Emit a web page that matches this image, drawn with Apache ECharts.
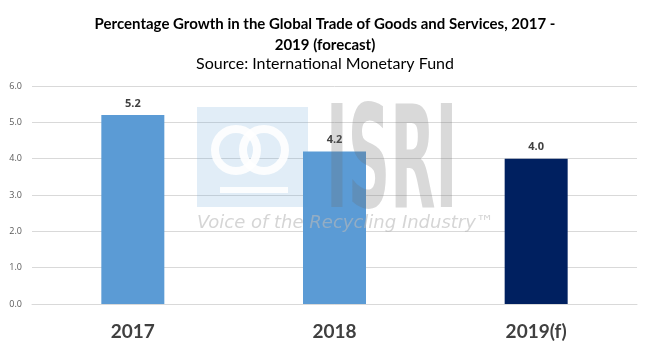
<!DOCTYPE html>
<html>
<head>
<meta charset="utf-8">
<script src="https://cdn.jsdelivr.net/npm/echarts@6/dist/echarts.min.js"></script>
<style>
  html, body { margin: 0; padding: 0; background: #fff; }
  #chart { width: 650px; height: 353px; }
</style>
</head>
<body>
<div id="chart"></div>
<script>
var categories = ['2017', '2018', '2019(f)'];
var growth = [5.2, 4.2, 4.0];
var barColors = ['#5B9BD5', '#5B9BD5', '#002060'];

var myChart = echarts.init(document.getElementById('chart'));

var seriesData = growth.map(function (v, i) {
    return { value: v, itemStyle: { color: barColors[i] } };
});

// faint ISRI watermark, drawn over the bars like in the source picture
var watermark = [
    { type: 'rect', zlevel: 1, z: 100, silent: true, shape: { x: 197, y: 107, width: 111, height: 100 },
      style: { fill: 'rgba(91,155,213,0.18)' } },
    { type: 'circle', zlevel: 1, z: 101, silent: true, shape: { cx: 236, cy: 150, r: 21 },
      style: { fill: 'none', stroke: 'rgba(255,255,255,0.9)', lineWidth: 8 } },
    { type: 'circle', zlevel: 1, z: 101, silent: true, shape: { cx: 264, cy: 150, r: 21 },
      style: { fill: 'none', stroke: 'rgba(255,255,255,0.9)', lineWidth: 8 } },
    { type: 'rect', zlevel: 1, z: 101, silent: true, shape: { x: 220, y: 187, width: 68, height: 6 },
      style: { fill: 'rgba(255,255,255,0.9)' } },
    { type: 'text', zlevel: 1, z: 101, silent: true, x: 326, y: 99, scaleX: 0.46,
      style: { text: 'ISRI', fontFamily: 'DejaVu Sans Condensed', fontWeight: 'bold', fontSize: 142,
               fill: 'rgba(110,110,110,0.26)', textVerticalAlign: 'top' } },
    { type: 'text', zlevel: 1, z: 101, silent: true, x: 197, y: 214,
      style: { text: 'Voice of the Recycling Industry™', fontFamily: 'DejaVu Sans', fontStyle: 'italic',
               fontSize: 18, fill: 'rgba(185,185,185,0.6)' } }
];

var option = {
    backgroundColor: '#fff',
    title: [
        {
            text: 'Percentage Growth in the Global Trade of Goods and Services, 2017 -\n2019 (forecast)',
            left: 'center',
            top: 9,
            textStyle: { fontFamily: 'Lato', fontSize: 15, fontWeight: 'bold', color: '#000', lineHeight: 21 }
        },
        {
            text: 'Source: International Monetary Fund',
            left: 'center',
            top: 51,
            textStyle: { fontFamily: 'Lato', fontSize: 16, fontWeight: 'normal', color: '#000' }
        }
    ],
    grid: { left: 32, right: 13, top: 86, bottom: 49 },
    xAxis: {
        type: 'category',
        data: categories,
        axisLine: { show: true, lineStyle: { color: '#d9d9d9' } },
        axisTick: { show: false },
        axisLabel: { margin: 18, fontFamily: 'Lato', fontSize: 19, fontWeight: 'bold', color: '#404040' }
    },
    yAxis: {
        type: 'value',
        min: 0,
        max: 6,
        interval: 1,
        axisLine: { show: false },
        axisTick: { show: false },
        axisLabel: {
            margin: 10,
            fontFamily: 'Open Sans', fontSize: 9, color: '#595959',
            formatter: function (v) { return v.toFixed(1); }
        },
        splitLine: { lineStyle: { color: '#d9d9d9' } }
    },
    graphic: watermark,
    series: [
        {
            type: 'bar',
            data: seriesData,
            barWidth: 63,
            label: {
                show: true,
                position: 'top',
                distance: 6,
                fontFamily: 'Open Sans', fontSize: 11, fontWeight: 'bold', color: '#404040',
                formatter: function (p) { return p.value.toFixed(1); }
            }
        }
    ]
};
myChart.setOption(option);
</script>
</body>
</html>
